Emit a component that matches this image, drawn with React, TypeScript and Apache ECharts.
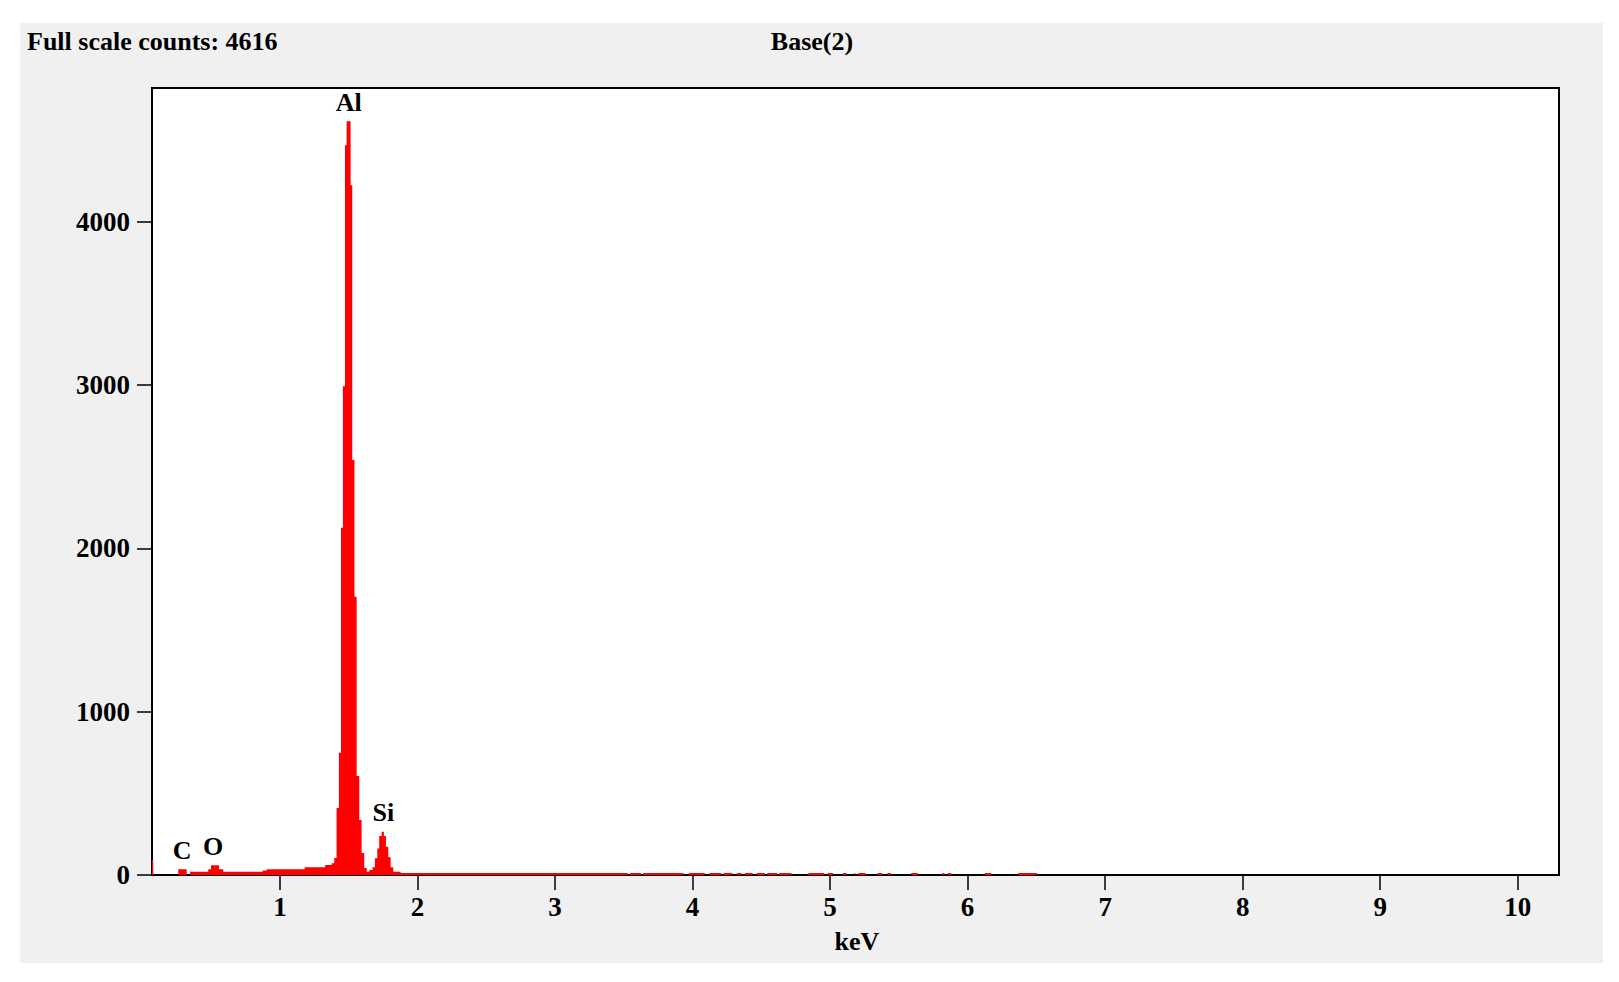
import React, { useEffect, useRef } from "react";
import * as echarts from "echarts";

// Spectrum as step data: each energy (keV) is the left edge of a run of equal counts
const energyKeV = [
  0.07, 0.079, 0.261, 0.322, 0.346, 0.479, 0.499, 0.557, 0.588, 0.875, 0.905,
  1.18, 1.329, 1.376, 1.395, 1.412, 1.429, 1.444, 1.458, 1.473, 1.485, 1.514,
  1.526, 1.542, 1.558, 1.577, 1.594, 1.613, 1.631, 1.65, 1.674, 1.691, 1.708,
  1.722, 1.74, 1.756, 1.771, 1.788, 1.805, 1.824, 1.878,
  3.529, 3.545, 3.625, 3.642, 3.934, 3.973, 4.09, 4.123, 4.21, 4.226, 4.291,
  4.323, 4.356, 4.382, 4.437, 4.469, 4.525, 4.544, 4.616, 4.632, 4.719, 4.843,
  4.956, 4.983, 5.021, 5.093, 5.119, 5.174, 5.183, 5.206, 5.258, 5.346, 5.378,
  5.417, 5.443, 5.59, 5.638, 5.816, 5.832, 5.855, 5.881, 6.125, 6.173, 6.368,
  6.504, 10.3,
];
const counts = [
  92, 0, 35, 0, 20, 35, 59, 35, 20, 28, 35,
  47, 61, 72, 104, 410, 749, 2127, 2994, 4470, 4616, 4225,
  2541, 1704, 606, 337, 135, 43, 20, 31, 47, 102, 163,
  239, 265, 239, 173, 108, 47, 20, 12,
  0, 12, 0, 12, 0, 12, 0, 12, 0, 12, 0,
  12, 0, 12, 0, 12, 0, 12, 0, 12, 0, 12,
  0, 12, 0, 12, 0, 12, 0, 12, 0, 12, 0,
  12, 0, 12, 0, 12, 0, 12, 0, 12, 0, 12,
  0, 0,
];

const peakNames = ["C", "O", "Al", "Si"];
const peakKeV = [0.29, 0.515, 1.5, 1.752];
const peakCounts = [35, 59, 4616, 265];

const xTickValues = [1, 2, 3, 4, 5, 6, 7, 8, 9, 10];
const yTickValues = [0, 1000, 2000, 3000, 4000];

const titleLeft = "Full scale counts: 4616";
const titleCenter = "Base(2)";
const xAxisTitle = "keV";

const FONT = '"Liberation Serif", "Times New Roman", serif';

export default function App() {
  const ref = useRef<HTMLDivElement>(null);

  useEffect(() => {
    if (!ref.current) return;
    const chart = echarts.init(ref.current, null, { renderer: "svg" });
    const textStyle = (extra: any) => ({
      fill: "#000",
      font: `bold 26px ${FONT}`,
      fontFamily: FONT,
      fontWeight: "bold",
      fontSize: 26,
      ...extra,
    });
    chart.setOption({
      animation: false,
      backgroundColor: "#ffffff",
      graphic: [
        {
          type: "rect",
          z: -1,
          silent: true,
          shape: { x: 20, y: 23, width: 1583, height: 940 },
          style: { fill: "#f0f0f0" },
        },
        {
          type: "text",
          z: 10,
          x: 27,
          y: 41,
          style: textStyle({
            text: titleLeft,
            align: "left",
            verticalAlign: "middle",
            textAlign: "left",
            textVerticalAlign: "middle",
          }),
        },
        {
          type: "text",
          z: 10,
          x: 812,
          y: 41,
          style: textStyle({
            text: titleCenter,
            align: "center",
            verticalAlign: "middle",
            textAlign: "center",
            textVerticalAlign: "middle",
          }),
        },
        {
          type: "text",
          z: 10,
          x: 857,
          y: 941,
          style: textStyle({
            text: xAxisTitle,
            align: "center",
            verticalAlign: "middle",
            textAlign: "center",
            textVerticalAlign: "middle",
          }),
        },
      ],
      grid: {
        left: 152,
        right: 60,
        top: 88,
        bottom: 107,
        show: true,
        backgroundColor: "#ffffff",
        borderColor: "#000000",
        borderWidth: 2,
      },
      xAxis: {
        type: "value",
        min: 0.07,
        max: 10.3,
        axisLine: { show: true, lineStyle: { color: "#000", width: 2 } },
        axisTick: {
          show: true,
          inside: false,
          length: 15,
          customValues: xTickValues,
          lineStyle: { color: "#000", width: 1.5 },
        },
        axisLabel: {
          customValues: xTickValues,
          margin: 18,
          color: "#000",
          fontFamily: FONT,
          fontWeight: "bold",
          fontSize: 27,
          formatter: (v: number) => String(v),
        },
        splitLine: { show: false },
      },
      yAxis: {
        type: "value",
        min: 0,
        max: 4820,
        axisLine: { show: true, lineStyle: { color: "#000", width: 2 } },
        axisTick: {
          show: true,
          inside: false,
          length: 15,
          customValues: yTickValues,
          lineStyle: { color: "#000", width: 1.5 },
        },
        axisLabel: {
          customValues: yTickValues,
          margin: 22,
          color: "#000",
          fontFamily: FONT,
          fontWeight: "bold",
          fontSize: 27,
          formatter: (v: number) => String(v),
        },
        splitLine: { show: false },
      },
      series: [
        {
          type: "line",
          step: "end",
          data: energyKeV.map((k, i) => [k, counts[i]]),
          showSymbol: false,
          symbol: "none",
          lineStyle: { width: 0, color: "#ff0000" },
          itemStyle: { color: "#ff0000" },
          areaStyle: { color: "#ff0000", opacity: 1 },
          markPoint: {
            symbol: "circle",
            symbolSize: 2,
            itemStyle: { color: "rgba(0,0,0,0)" },
            label: {
              show: true,
              position: "top",
              distance: 5,
              formatter: "{b}",
              color: "#000",
              fontFamily: FONT,
              fontWeight: "bold",
              fontSize: 26,
            },
            data: peakNames.map((n, i) => ({
              name: n,
              coord: [peakKeV[i], peakCounts[i]],
            })),
          },
        },
      ],
    });
    return () => chart.dispose();
  }, []);

  return (
    <div
      ref={ref}
      style={{ position: "absolute", left: 0, top: 0, width: 1619, height: 982 }}
    />
  );
}
